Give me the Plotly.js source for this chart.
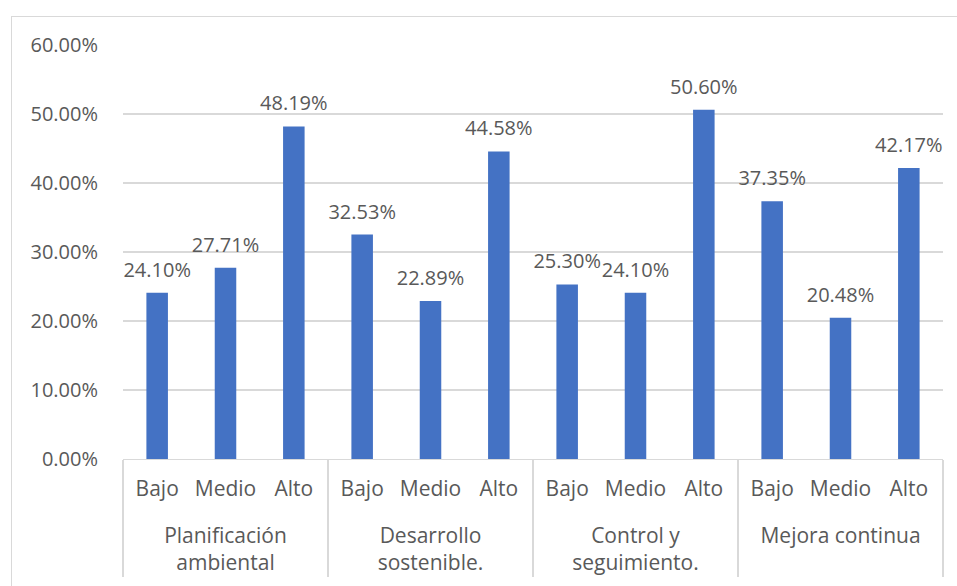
<!DOCTYPE html>
<html>
<head>
<meta charset="utf-8">
<script src="https://cdn.plot.ly/plotly-3.0.1.min.js"></script>
<style>
  html, body { margin: 0; padding: 0; background: #ffffff; }
  #wrap { position: relative; width: 957px; height: 586px; overflow: hidden; }
  #frame { position: absolute; left: 11px; top: 16px; width: 980px; height: 620px; border: 1px solid #d9d9d9; box-sizing: border-box; }
  #chart { position: absolute; left: 0; top: 0; width: 957px; height: 586px; }
</style>
</head>
<body>
<div id="wrap">
  <div id="frame"></div>
  <div id="chart"></div>
</div>
<script>
const groups = [
  "Planificación<br>ambiental",
  "Desarrollo<br>sostenible.",
  "Control y<br>seguimiento.",
  "Mejora continua"
];
const levels = ["Bajo", "Medio", "Alto"];
const values = [
  0.2410, 0.2771, 0.4819,
  0.3253, 0.2289, 0.4458,
  0.2530, 0.2410, 0.5060,
  0.3735, 0.2048, 0.4217
];
const yTicks = [0, 0.1, 0.2, 0.3, 0.4, 0.5, 0.6];

// group labels sit one line lower than Plotly's default spot
const xGroup = [];
const xLevel = [];
groups.forEach(g => levels.forEach(l => { xGroup.push("<br>" + g); xLevel.push(l); }));

const textColor = "#595959";
const fontFamily = "Open Sans, Lato, sans-serif";

const bars = {
  type: "bar",
  x: [xGroup, xLevel],
  y: values,
  marker: { color: "#4472C4" },
  hoverinfo: "none",
  showlegend: false
};

const labels = {
  type: "scatter",
  mode: "markers+text",
  x: [xGroup, xLevel],
  y: values,
  text: values.map(v => (v * 100).toFixed(2) + "%"),
  textposition: "top center",
  textfont: { family: fontFamily, size: 20, color: textColor },
  marker: { size: 16, color: "rgba(0,0,0,0)" },
  cliponaxis: false,
  hoverinfo: "none",
  showlegend: false
};

const layout = {
  width: 957,
  height: 586,
  margin: { l: 123, r: 14, t: 45, b: 127 },
  paper_bgcolor: "rgba(0,0,0,0)",
  plot_bgcolor: "rgba(0,0,0,0)",
  bargap: 0.685,
  font: { family: fontFamily, size: 20, color: textColor },
  xaxis: {
    type: "multicategory",
    range: [-0.5, values.length - 0.5],
    showline: true,
    linecolor: "#d9d9d9",
    linewidth: 1.3,
    showgrid: false,
    ticks: "",
    tickangle: 0,
    showdividers: true,
    dividercolor: "#d9d9d9",
    dividerwidth: 1.3,
    tickfont: { family: fontFamily, size: 21, color: textColor },
    ticklabelstandoff: 10,
    automargin: false
  },
  yaxis: {
    range: [0, 0.6],
    tickvals: yTicks,
    tickformat: ".2%",
    showgrid: true,
    gridcolor: "#d9d9d9",
    gridwidth: 1.3,
    zeroline: false,
    showline: false,
    ticks: "outside",
    ticklen: 20,
    tickcolor: "rgba(0,0,0,0)",
    tickfont: { family: fontFamily, size: 20, color: textColor },
    fixedrange: true,
    automargin: false
  }
};

Plotly.newPlot("chart", [bars, labels], layout, { displayModeBar: false, staticPlot: true });
</script>
</body>
</html>
